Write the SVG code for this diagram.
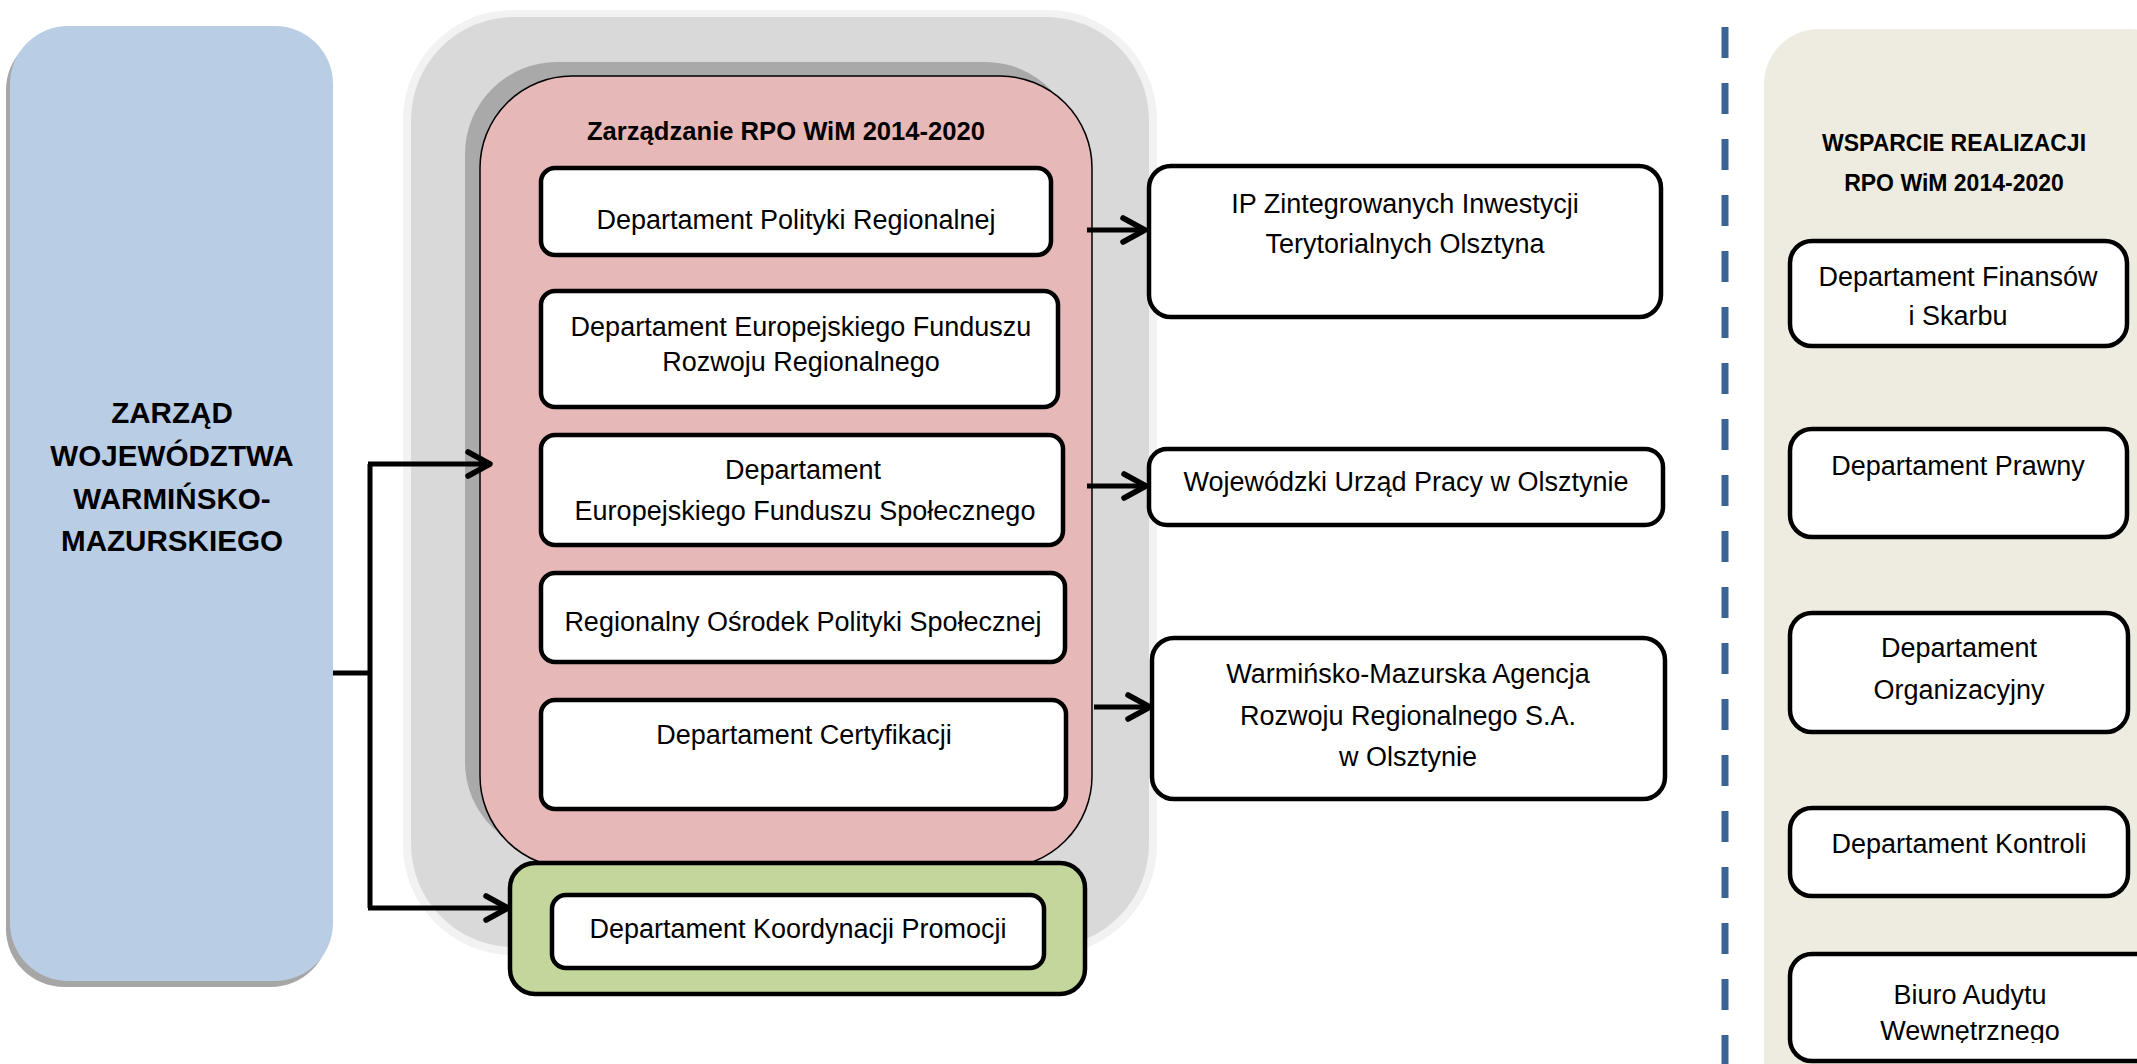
<svg xmlns="http://www.w3.org/2000/svg" width="2137" height="1064" viewBox="0 0 2137 1064">
<style>
.t{font-family:"Liberation Sans",Arial,sans-serif;font-size:27px;fill:#000;text-anchor:middle}
.b{font-family:"Liberation Sans",Arial,sans-serif;font-weight:bold;fill:#000;text-anchor:middle}
.box{fill:#fff;stroke:#000;stroke-width:4.5}
.con{fill:none;stroke:#000;stroke-width:5}
</style>
<defs>
<marker id="arr" markerUnits="userSpaceOnUse" viewBox="-28 -16 34 32" markerWidth="34" markerHeight="32" refX="0" refY="0" orient="auto">
<path d="M-22,-12 L0,0 L-22,12" fill="none" stroke="#000" stroke-width="5.5" stroke-linecap="round" stroke-linejoin="round"/>
</marker>
<clipPath id="clipB"><rect x="1790" y="954" width="400" height="89"/></clipPath>
</defs>
<rect width="2137" height="1064" fill="#fff"/>

<g id="zarzad">
<rect x="6" y="32" width="323" height="955" rx="58" fill="#a6a6a6"/>
<rect x="10" y="26" width="323" height="955" rx="58" fill="#b9cde5"/>
<text class="b" font-size="29.6" x="172" y="423">ZARZĄD</text>
<text class="b" font-size="29.6" x="172" y="466">WOJEWÓDZTWA</text>
<text class="b" font-size="29.6" x="172" y="509">WARMIŃSKO-</text>
<text class="b" font-size="29.6" x="172" y="551">MAZURSKIEGO</text>
</g>

<g id="outer-group">
<rect x="403" y="10" width="754" height="945" rx="110" fill="#f2f2f2"/>
<rect x="411" y="17" width="738" height="930" rx="103" fill="#d9d9d9"/>
</g>

<g id="zarzadzanie">
<rect x="465" y="62" width="612" height="792" rx="92" fill="#a9a9a9"/>
<rect x="480" y="76" width="612" height="792" rx="92" fill="#e6b8b7" stroke="#000" stroke-width="1.5"/>
<text class="b" font-size="25.6" x="786" y="140">Zarządzanie RPO WiM 2014-2020</text>
</g>

<g id="dpr">
<rect class="box" x="541" y="168" width="510" height="87" rx="14"/>
<text class="t" x="796" y="229">Departament Polityki Regionalnej</text>
</g>
<g id="defrr">
<rect class="box" x="541" y="291" width="517" height="116" rx="14"/>
<text class="t" x="801" y="336">Departament Europejskiego Funduszu</text>
<text class="t" x="801" y="371">Rozwoju Regionalnego</text>
</g>
<g id="defs-dept">
<rect class="box" x="541" y="435" width="522" height="110" rx="14"/>
<text class="t" x="803" y="479">Departament</text>
<text class="t" x="805" y="520">Europejskiego Funduszu Społecznego</text>
</g>
<g id="rops">
<rect class="box" x="541" y="573" width="524" height="89" rx="14"/>
<text class="t" x="803" y="631">Regionalny Ośrodek Polityki Społecznej</text>
</g>
<g id="dc">
<rect class="box" x="541" y="700" width="525" height="109" rx="14"/>
<text class="t" x="804" y="744">Departament Certyfikacji</text>
</g>

<g id="promocja">
<rect x="510" y="863" width="575" height="131" rx="25" fill="#c3d69b" stroke="#000" stroke-width="4.5"/>
<rect class="box" x="552" y="895" width="492" height="73" rx="14"/>
<text class="t" x="798" y="938">Departament Koordynacji Promocji</text>
</g>

<g id="ip-zit">
<rect class="box" x="1149" y="166" width="512" height="151" rx="22"/>
<text class="t" x="1405" y="213">IP Zintegrowanych Inwestycji</text>
<text class="t" x="1405" y="253">Terytorialnych Olsztyna</text>
</g>
<g id="wup">
<rect class="box" x="1149" y="449" width="514" height="76" rx="18"/>
<text class="t" x="1406" y="491">Wojewódzki Urząd Pracy w Olsztynie</text>
</g>
<g id="wmarr">
<rect class="box" x="1152" y="638" width="513" height="161" rx="22"/>
<text class="t" x="1408" y="683">Warmińsko-Mazurska Agencja</text>
<text class="t" x="1408" y="725">Rozwoju Regionalnego S.A.</text>
<text class="t" x="1408" y="766">w Olsztynie</text>
</g>

<g id="divider">
<line x1="1725" y1="27" x2="1725" y2="1064" stroke="#3b6496" stroke-width="7" stroke-dasharray="31 25"/>
</g>

<g id="wsparcie">
<rect x="1764" y="29" width="420" height="1090" rx="55" fill="#eeece1"/>
<text class="b" font-size="23" x="1954" y="151">WSPARCIE REALIZACJI</text>
<text class="b" font-size="23" x="1954" y="191">RPO WiM 2014-2020</text>
</g>
<g id="dfis">
<rect class="box" x="1790" y="241" width="337" height="105" rx="22"/>
<text class="t" x="1958" y="286">Departament Finansów</text>
<text class="t" x="1958" y="325">i Skarbu</text>
</g>
<g id="dp">
<rect class="box" x="1790" y="429" width="337" height="108" rx="22"/>
<text class="t" x="1958" y="475">Departament Prawny</text>
</g>
<g id="do">
<rect class="box" x="1790" y="613" width="338" height="119" rx="22"/>
<text class="t" x="1959" y="657">Departament</text>
<text class="t" x="1959" y="699">Organizacyjny</text>
</g>
<g id="dk">
<rect class="box" x="1790" y="808" width="338" height="88" rx="22"/>
<text class="t" x="1959" y="853">Departament Kontroli</text>
</g>
<g id="bau">
<rect class="box" x="1790" y="954" width="380" height="107" rx="22"/>
<g clip-path="url(#clipB)">
<text class="t" x="1970" y="1004">Biuro Audytu</text>
<text class="t" x="1970" y="1040">Wewnętrznego</text>
</g>
</g>

<g id="connectors">
<path class="con" d="M333,673 H370"/>
<path class="con" d="M370,464 V908"/>
<path class="con" d="M368,464 H490" marker-end="url(#arr)"/>
<path class="con" d="M368,908 H508" marker-end="url(#arr)"/>
<path class="con" d="M1087,230 H1145" marker-end="url(#arr)"/>
<path class="con" d="M1087,486 H1146" marker-end="url(#arr)"/>
<path class="con" d="M1094,707 H1150" marker-end="url(#arr)"/>
</g>
</svg>
